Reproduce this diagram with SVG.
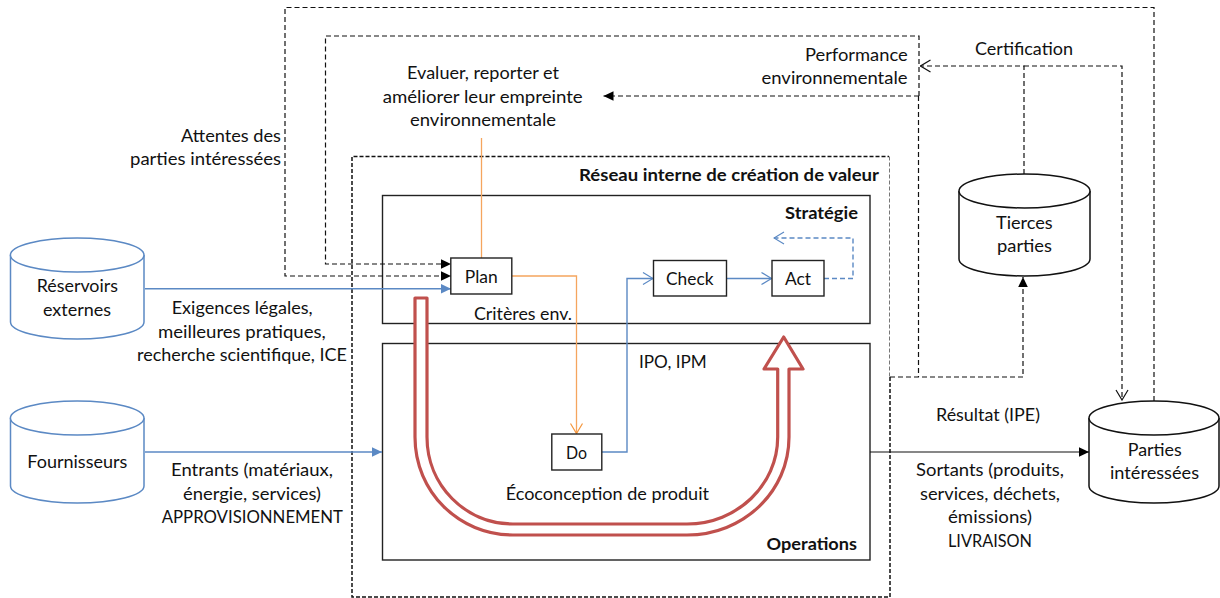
<svg xmlns="http://www.w3.org/2000/svg" width="1220" height="598" viewBox="0 0 1220 598">
<style>
text{font-family:"Lato","Open Sans","Liberation Sans",sans-serif;font-size:17px;fill:#111}
.b{font-weight:700}
.box{fill:#fff;stroke:#222;stroke-width:1.4}
.area{fill:none;stroke:#222;stroke-width:1.4}
.cyl{fill:#fff;stroke:#111;stroke-width:1.5}
.cylb{fill:#fff;stroke:#5B89C4;stroke-width:1.5}
.c{fill:none}
.k{stroke:#111;stroke-width:1.2}
.d{stroke:#111;stroke-width:1.2;stroke-dasharray:5 3}
.o{stroke:#F5A55E;stroke-width:1.3}
.u{stroke:#5B89C4;stroke-width:1.4}
.ud{stroke:#5B89C4;stroke-width:1.4;stroke-dasharray:5 3}
</style>
<defs>
<marker id="ak" markerUnits="userSpaceOnUse" markerWidth="11" markerHeight="12" refX="10" refY="6" orient="auto"><path d="M0 1.2L10 6L0 10.8Z" fill="#000"/></marker>
<marker id="au" markerUnits="userSpaceOnUse" markerWidth="11" markerHeight="12" refX="10" refY="6" orient="auto"><path d="M0 1.2L10 6L0 10.8Z" fill="#5B89C4"/></marker>
<marker id="ok" markerUnits="userSpaceOnUse" markerWidth="12" markerHeight="14" refX="11" refY="7" orient="auto"><path d="M1 1L11 7L1 13" fill="none" stroke="#111" stroke-width="1.2"/></marker>
<marker id="oo" markerUnits="userSpaceOnUse" markerWidth="12" markerHeight="14" refX="11" refY="7" orient="auto"><path d="M1 1L11 7L1 13" fill="none" stroke="#F5963C" stroke-width="1.2"/></marker>
<marker id="ou" markerUnits="userSpaceOnUse" markerWidth="12" markerHeight="14" refX="11" refY="7" orient="auto"><path d="M1 1L11 7L1 13" fill="none" stroke="#5B89C4" stroke-width="1.2"/></marker>
</defs>

<g id="reseau-interne">
<path class="c" d="M890 377V597H352V156.5H889" stroke="#111" stroke-width="1.5" stroke-dasharray="4 2"/>
<path class="c" d="M889.5 156.5V377" stroke="#777" stroke-width="1" stroke-dasharray="4 2"/>
<text class="b" x="579" y="181" textLength="300" lengthAdjust="spacingAndGlyphs">Réseau interne de création de valeur</text>
</g>
<g id="strategie">
<rect class="area" x="382.5" y="195.5" width="487.5" height="128"/>
<text class="b" x="785" y="219" textLength="73" lengthAdjust="spacingAndGlyphs">Stratégie</text>
</g>
<g id="operations">
<rect class="area" x="382.5" y="343.5" width="487.5" height="216.5"/>
<text class="b" x="766.5" y="550" textLength="90.5" lengthAdjust="spacingAndGlyphs">Operations</text>
</g>

<g id="connectors">
<path class="c d" d="M1154 401V7.5H285V276H451" marker-end="url(#ak)"/>
<path class="c d" d="M919 96V36H325.5V264H451" marker-end="url(#ak)"/>
<path class="c d" d="M919 96H603.5" marker-end="url(#ak)"/>
<path class="c d" d="M918.5 96V377"/>
<path class="c d" d="M890 377H1023V277" marker-end="url(#ak)"/>
<path class="c d" d="M1024 174V66H920.5" marker-end="url(#ok)"/>
<path class="c d" d="M1024 66H1122V400" marker-end="url(#ok)"/>
<path class="c k" d="M870 452H1089" marker-end="url(#ak)"/>
<path class="c u" d="M145 288.7H451" marker-end="url(#au)"/>
<path class="c u" d="M145 452H382" marker-end="url(#au)"/>
<path class="c o" d="M481.5 138V258"/>
<path class="c o" d="M512 276H576.5V433.5" marker-end="url(#oo)"/>
<path class="c u" d="M602 452H627V278.5H653" marker-end="url(#ou)"/>
<path class="c u" d="M727 278.5H771.5" marker-end="url(#ou)"/>
<path class="c ud" d="M824 278.5H853V238H774" marker-end="url(#ou)"/>
<path id="boucle" d="M415 298H427V437C427 485 465 524 513 524H687C737 524 777.7 485 777.7 437V369H764L783.7 337L803 369H789V437C789 492 743 535 687 535H513C459 535 415 492 415 437Z" fill="#fff" stroke="#C0504D" stroke-width="3.2" stroke-linejoin="round"/>
</g>

<g id="reservoirs-externes">
<path class="cylb" d="M10.5 255V322C10.5 331.4 40.5 339 77.2 339S144 331.4 144 322V255"/>
<ellipse class="cylb" cx="77.2" cy="255" rx="66.8" ry="17"/>
<text x="36.7" y="292" textLength="81.3" lengthAdjust="spacingAndGlyphs">Réservoirs</text>
<text x="43" y="316" textLength="68" lengthAdjust="spacingAndGlyphs">externes</text>
</g>
<g id="fournisseurs">
<path class="cylb" d="M10.5 418V486C10.5 495.4 40.5 503 77.2 503S144 495.4 144 486V418"/>
<ellipse class="cylb" cx="77.2" cy="418" rx="66.8" ry="17"/>
<text x="27.3" y="467.7" textLength="100" lengthAdjust="spacingAndGlyphs">Fournisseurs</text>
</g>
<g id="tierces-parties">
<path class="cyl" d="M959 191V259C959 268.4 988.3 276 1024.5 276S1090 268.4 1090 259V191"/>
<ellipse class="cyl" cx="1024.5" cy="191" rx="65.5" ry="17"/>
<text x="996" y="229" textLength="56.7" lengthAdjust="spacingAndGlyphs">Tierces</text>
<text x="997" y="252" textLength="55" lengthAdjust="spacingAndGlyphs">parties</text>
</g>
<g id="parties-interessees">
<path class="cyl" d="M1089 418V486C1089 495.4 1118 503 1154 503S1219 495.4 1219 486V418"/>
<ellipse class="cyl" cx="1154" cy="418" rx="65" ry="17"/>
<text x="1127.7" y="456" textLength="54" lengthAdjust="spacingAndGlyphs">Parties</text>
<text x="1110" y="479" textLength="89" lengthAdjust="spacingAndGlyphs">intéressées</text>
</g>
<g id="plan"><rect class="box" x="450.8" y="258" width="61" height="36"/><text x="464.7" y="283" textLength="33" lengthAdjust="spacingAndGlyphs">Plan</text></g>
<g id="check"><rect class="box" x="653.5" y="260.5" width="73" height="35.5"/><text x="666" y="285" textLength="47.5" lengthAdjust="spacingAndGlyphs">Check</text></g>
<g id="act"><rect class="box" x="772" y="260.5" width="52" height="35.5"/><text x="785" y="285" textLength="26" lengthAdjust="spacingAndGlyphs">Act</text></g>
<g id="do"><rect class="box" x="551.8" y="434" width="50" height="36"/><text x="566" y="459" textLength="21" lengthAdjust="spacingAndGlyphs">Do</text></g>

<g id="labels">
<text x="407" y="79" textLength="152" lengthAdjust="spacingAndGlyphs">Evaluer, reporter et</text>
<text x="382.7" y="103" textLength="200" lengthAdjust="spacingAndGlyphs">améliorer leur empreinte</text>
<text x="410" y="126" textLength="146" lengthAdjust="spacingAndGlyphs">environnementale</text>
<text x="181" y="142" textLength="100" lengthAdjust="spacingAndGlyphs">Attentes des</text>
<text x="130" y="165" textLength="151" lengthAdjust="spacingAndGlyphs">parties intéressées</text>
<text x="805" y="61" textLength="102.7" lengthAdjust="spacingAndGlyphs">Performance</text>
<text x="761.5" y="84" textLength="146" lengthAdjust="spacingAndGlyphs">environnementale</text>
<text x="975" y="55" textLength="98" lengthAdjust="spacingAndGlyphs">Certification</text>
<text x="474" y="320" textLength="98" lengthAdjust="spacingAndGlyphs">Critères env.</text>
<text x="639" y="368" textLength="67.7" lengthAdjust="spacingAndGlyphs">IPO, IPM</text>
<text x="505.7" y="500" textLength="203.3" lengthAdjust="spacingAndGlyphs">Écoconception de produit</text>
<text x="936" y="421" textLength="104" lengthAdjust="spacingAndGlyphs">Résultat (IPE)</text>
<text x="916" y="476" textLength="148" lengthAdjust="spacingAndGlyphs">Sortants (produits,</text>
<text x="920" y="500" textLength="140" lengthAdjust="spacingAndGlyphs">services, déchets,</text>
<text x="948" y="523" textLength="84" lengthAdjust="spacingAndGlyphs">émissions)</text>
<text x="948" y="547" textLength="84" lengthAdjust="spacingAndGlyphs">LIVRAISON</text>
<text x="171.7" y="314" textLength="141" lengthAdjust="spacingAndGlyphs">Exigences légales,</text>
<text x="158" y="338" textLength="167.7" lengthAdjust="spacingAndGlyphs">meilleures pratiques,</text>
<text x="137" y="361" textLength="210" lengthAdjust="spacingAndGlyphs">recherche scientifique, ICE</text>
<text x="171" y="476" textLength="162" lengthAdjust="spacingAndGlyphs">Entrants (matériaux,</text>
<text x="183" y="500" textLength="138" lengthAdjust="spacingAndGlyphs">énergie, services)</text>
<text x="161.7" y="523" textLength="181.3" lengthAdjust="spacingAndGlyphs">APPROVISIONNEMENT</text>
</g>
</svg>
